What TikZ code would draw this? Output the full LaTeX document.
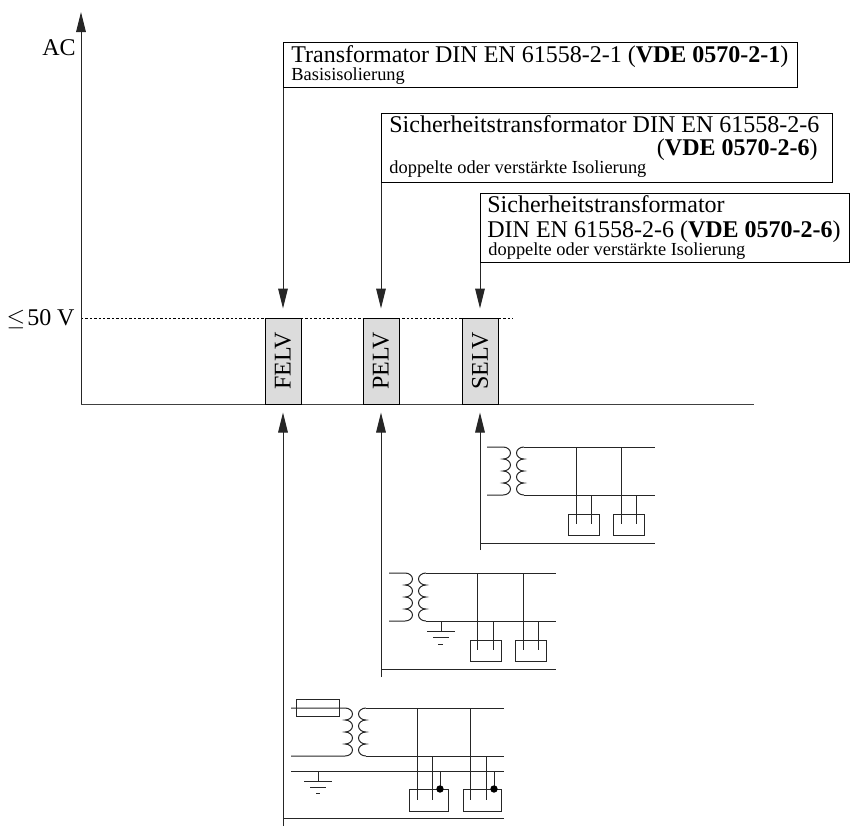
\documentclass[tikz,border=0pt]{standalone}
\usepackage{fontspec}
\usepackage{xcolor}
\usepackage{amssymb}
\setmainfont{Liberation Serif}
\usetikzlibrary{arrows.meta}
\definecolor{elvgray}{HTML}{DCDCDC}
\tikzset{
  framebox/.style={draw=black,line width=0.5pt,inner sep=0pt,anchor=north west},
  bigtxt/.style={anchor=base west,inner sep=0pt,font=\fontsize{12}{12}\selectfont},
  smalltxt/.style={anchor=base west,inner sep=0pt,font=\fontsize{9.2}{10}\selectfont},
  elvnode/.style={draw=black,line width=0.5pt,fill=elvgray,minimum width=43pt,minimum height=18pt,inner sep=0pt,rotate=90,font=\fontsize{12}{12}\selectfont},
  axisline/.style={line width=0.5pt,black!75},
  wire/.style={line width=0.5pt,black!85},
  refarrow/.style={-{Triangle[length=10pt,width=4.8pt]},line width=0.5pt,black!85},
}
% primary and secondary winding, four half turns each
\newcommand{\trafo}[3]{%
  \draw[wire] (#1,#2) -- ++(#3,0)
    arc[start angle=-90,end angle=90,x radius=7.5,y radius=6] arc[start angle=-90,end angle=90,x radius=7.5,y radius=6]
    arc[start angle=-90,end angle=90,x radius=7.5,y radius=6] arc[start angle=-90,end angle=90,x radius=7.5,y radius=6]
    -- ++(-#3,0);
  \draw[wire] (#1+#3+21,#2)
    arc[start angle=-90,end angle=-270,x radius=7.5,y radius=6] arc[start angle=-90,end angle=-270,x radius=7.5,y radius=6]
    arc[start angle=-90,end angle=-270,x radius=7.5,y radius=6] arc[start angle=-90,end angle=-270,x radius=7.5,y radius=6];
}
\begin{document}
\begin{tikzpicture}[x=0.5pt,y=-0.5pt]
  \useasboundingbox (0,0) rectangle (853,827);
  % axes
  \coordinate (o) at (81,404);
  \coordinate (top) at (81,12);
  \coordinate (xend) at (754,404);
  \coordinate (limstart) at (81,318);
  \coordinate (limend) at (513,318);
  \draw[dash pattern=on 1.2pt off 1pt,line width=0.5pt] (limstart) -- (limend);
  \draw[refarrow] (o) -- (top);
  \draw[axisline] (o) -- (xend);
  \node[anchor=base east,inner sep=0pt,font=\fontsize{12}{12}\selectfont] (ac) at (76,55) {AC};
  \node[anchor=base east,inner sep=0pt,font=\fontsize{12}{12}\selectfont] (lim) at (75,325) {$\leq$\hspace{1pt}50 V};
  % the three bars
  \node[elvnode] (felv) at (283,361) {FELV};
  \node[elvnode] (pelv) at (381,361) {PELV};
  \node[elvnode] (selv) at (480,361) {SELV};
  % standards
  \node[framebox,minimum width=257pt,minimum height=22.5pt] (t1) at (283,42) {};
  \node[bigtxt] (t1a) at (291,62) {Transformator DIN EN 61558-2-1 (\textbf{VDE 0570-2-1})};
  \node[smalltxt] (t1b) at (291,80) {Basisisolierung};
  \node[framebox,minimum width=225.5pt,minimum height=34.5pt] (t2) at (381,113) {};
  \node[bigtxt] (t2a) at (389,132) {Sicherheitstransformator DIN EN 61558-2-6};
  \node[bigtxt,anchor=base east] (t2b) at (818,155) {(\textbf{VDE 0570-2-6})};
  \node[smalltxt] (t2c) at (389,173) {doppelte oder verstärkte Isolierung};
  \node[framebox,minimum width=184.5pt,minimum height=34.5pt] (t3) at (480,193) {};
  \node[bigtxt] (t3a) at (487,212) {Sicherheitstransformator};
  \node[bigtxt] (t3b) at (487,237) {DIN EN 61558-2-6 (\textbf{VDE 0570-2-6})};
  \node[smalltxt] (t3c) at (488,255) {doppelte oder verstärkte Isolierung};
  \draw[refarrow,shorten >=4.5pt] (t1.south west) -- (t1.south west |- felv.east);
  \draw[refarrow,shorten >=4.5pt] (t2.south west) -- (t2.south west |- pelv.east);
  \draw[refarrow,shorten >=4.5pt] (t3.south west) -- (t3.south west |- selv.east);
  % SELV circuit
  \coordinate (sb) at (480,550);
  \draw[refarrow,shorten >=4pt] (sb) -- (sb |- selv.west);
  \trafo{487}{447}{16}
  \draw[wire] (524,447) -- (655,447);
  \draw[wire] (524,495) -- (655,495);
  \draw[wire] (480,543) -- (655,543);
  \draw[wire] (576,447) -- (576,524) (591,495) -- (591,524) (621,447) -- (621,524) (636,495) -- (636,524);
  \draw[wire] (568,514) rectangle (599,535) (613,514) rectangle (644,535);
  % PELV circuit
  \coordinate (pb) at (381,677);
  \draw[refarrow,shorten >=4pt] (pb) -- (pb |- pelv.west);
  \trafo{389}{573}{16}
  \draw[wire] (426,573) -- (556,573);
  \draw[wire] (426,621) -- (556,621);
  \draw[wire] (381,669) -- (556,669);
  \draw[wire] (477,573) -- (477,650) (493,621) -- (493,650) (523,573) -- (523,650) (538,621) -- (538,650);
  \draw[wire] (470,640) rectangle (501,661) (515,640) rectangle (546,661);
  \draw[wire] (441,621) -- (441,631) (427,631) -- (455,631) (433,637) -- (449,637) (438,644) -- (443,644);
  % FELV circuit
  \coordinate (fb) at (283,826);
  \draw[refarrow,shorten >=4pt] (fb) -- (fb |- felv.west);
  \trafo{291}{708}{54}
  \draw[wire] (366,708) -- (504,708);
  \draw[wire] (366,756) -- (504,756);
  \draw[wire] (291,771) -- (504,771);
  \draw[wire] (283,818) -- (504,818);
  \draw[wire] (296,699) rectangle (339,716);
  \draw[wire] (417,708) -- (417,800) (432,756) -- (432,800) (470,708) -- (470,800) (486,756) -- (486,800);
  \draw[wire] (409,789) rectangle (448,811) (463,789) rectangle (501,811);
  \draw[wire] (440,771) -- (440,789) (494,771) -- (494,789);
  \fill (440,789) circle (3.7) (494,789) circle (3.7);
  \draw[wire] (318,771) -- (318,781) (304,781) -- (332,781) (310,787) -- (326,787) (316,793) -- (320,793);
\end{tikzpicture}
\end{document}
